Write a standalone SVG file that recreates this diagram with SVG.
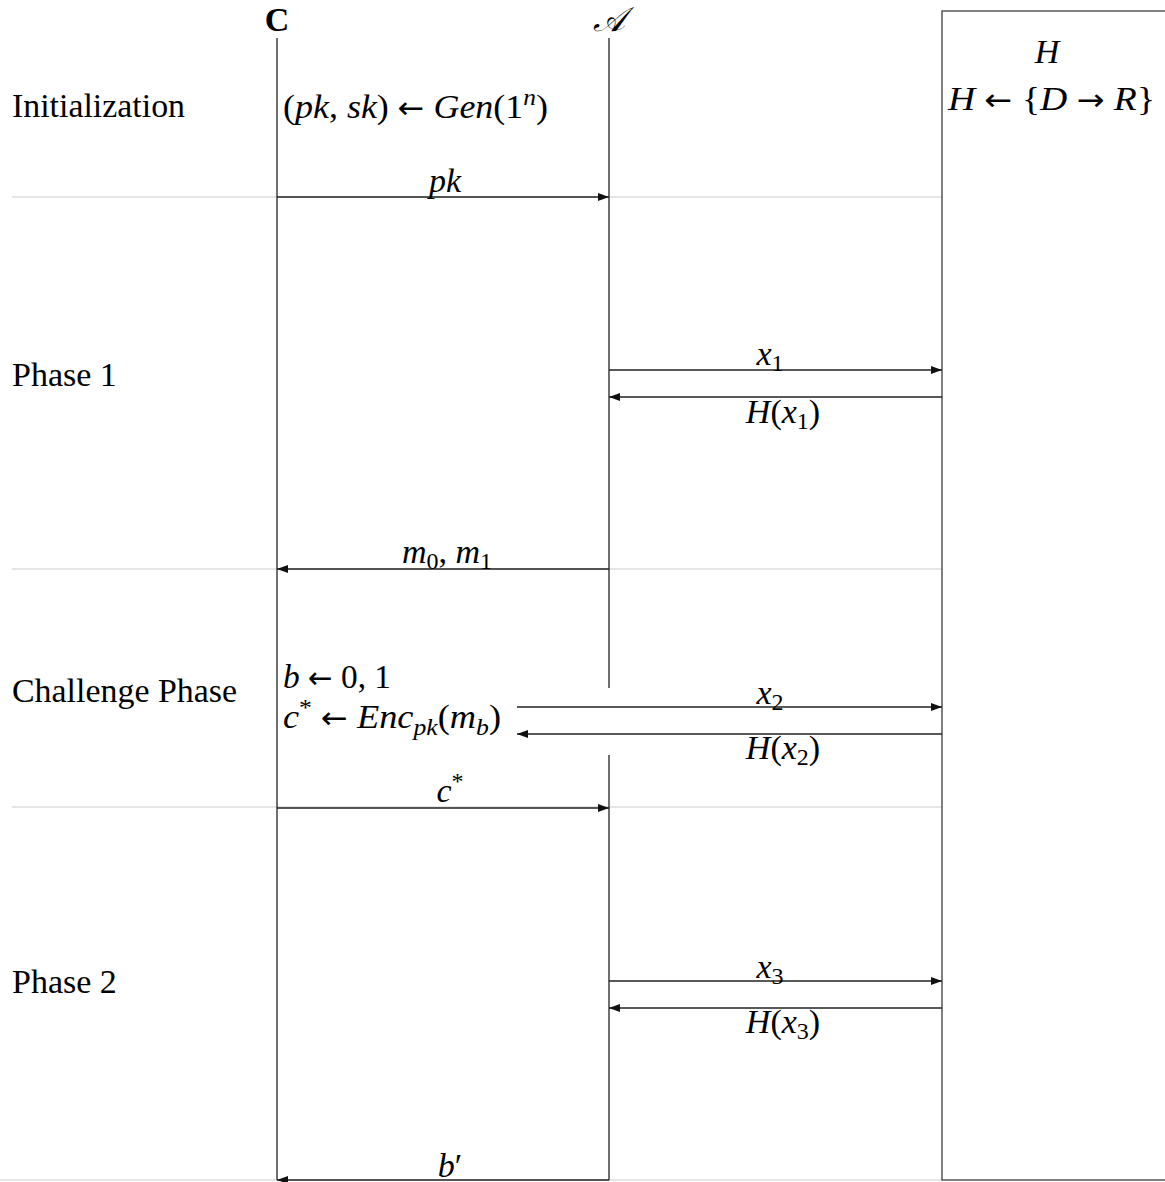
<svg xmlns="http://www.w3.org/2000/svg" width="1165" height="1182" viewBox="0 0 1165 1182">
<style>
text{font-family:"Liberation Serif","Times New Roman",serif;font-size:34px;fill:#000}
.m{font-style:italic}
.sub{font-size:24px}
.ar{font-family:"DejaVu Sans",sans-serif;font-size:30px}
.lbl{text-anchor:middle}
.sep{stroke:#dddddd;stroke-width:1.3;fill:none}
.life{stroke:#222;stroke-width:1.3;fill:none}
.msg{stroke:#222;stroke-width:1.3;fill:none;marker-end:url(#ah)}
</style>
<defs>
<marker id="ah" markerUnits="userSpaceOnUse" markerWidth="12" markerHeight="9" refX="11" refY="4" orient="auto">
<path d="M0,0 L11,4 L0,8 Z" fill="#111"/>
</marker>
</defs>
<g id="separators">
<line class="sep" x1="12" y1="197" x2="942" y2="197"/>
<line class="sep" x1="12" y1="569" x2="942" y2="569"/>
<line class="sep" x1="12" y1="807" x2="942" y2="807"/>
<line class="sep" x1="0" y1="1180" x2="942" y2="1180"/>
</g>
<g id="phase-labels">
<text x="12" y="117" textLength="173" lengthAdjust="spacingAndGlyphs">Initialization</text>
<text x="12" y="386">Phase 1</text>
<text x="12" y="702" textLength="225" lengthAdjust="spacingAndGlyphs">Challenge Phase</text>
<text x="12" y="993">Phase 2</text>
</g>
<g id="node-C">
<text x="277" y="31" class="lbl" font-weight="bold">C</text>
<line class="life" x1="277" y1="38" x2="277" y2="1180"/>
<text x="283" y="118" textLength="265" lengthAdjust="spacingAndGlyphs"><tspan>(</tspan><tspan class="m">pk</tspan><tspan>, </tspan><tspan class="m">sk</tspan><tspan>) </tspan><tspan class="ar">←</tspan><tspan> </tspan><tspan class="m">Gen</tspan><tspan>(1</tspan><tspan class="m sub" dy="-13">n</tspan><tspan dy="13">)</tspan></text>
<text x="283" y="688" textLength="108" lengthAdjust="spacingAndGlyphs"><tspan class="m">b</tspan><tspan> </tspan><tspan class="ar">←</tspan><tspan> 0, 1</tspan></text>
<text x="283" y="728" textLength="218" lengthAdjust="spacingAndGlyphs"><tspan class="m">c</tspan><tspan class="sub" dy="-13">*</tspan><tspan dy="13"> </tspan><tspan class="ar">←</tspan><tspan> </tspan><tspan class="m">Enc</tspan><tspan class="m sub" dy="7">pk</tspan><tspan dy="-7">(</tspan><tspan class="m">m</tspan><tspan class="m sub" dy="7">b</tspan><tspan dy="-7">)</tspan></text>
</g>
<g id="node-A">
<text x="609" y="31" class="lbl m">𝒜</text>
<line class="life" x1="609" y1="38" x2="609" y2="688"/>
<line class="life" x1="609" y1="755" x2="609" y2="1180"/>
</g>
<g id="node-H">
<rect x="942" y="11" width="240" height="1169" fill="none" stroke="#555" stroke-width="1.5"/>
<text x="1047" y="63" class="lbl m">H</text>
<text x="948" y="110" textLength="207" lengthAdjust="spacingAndGlyphs"><tspan class="m">H</tspan><tspan> </tspan><tspan class="ar">←</tspan><tspan> {</tspan><tspan class="m">D</tspan><tspan> </tspan><tspan class="ar">→</tspan><tspan> </tspan><tspan class="m">R</tspan><tspan>}</tspan></text>
</g>
<g id="connectors">
<line class="msg" x1="277" y1="197" x2="609" y2="197"/>
<line class="msg" x1="609" y1="370" x2="942" y2="370"/>
<line class="msg" x1="942" y1="397" x2="609" y2="397"/>
<line class="msg" x1="609" y1="569" x2="277" y2="569"/>
<line class="msg" x1="517" y1="707" x2="942" y2="707"/>
<line class="msg" x1="942" y1="734" x2="517" y2="734"/>
<line class="msg" x1="277" y1="808" x2="609" y2="808"/>
<line class="msg" x1="609" y1="981" x2="942" y2="981"/>
<line class="msg" x1="942" y1="1008" x2="609" y2="1008"/>
<line class="msg" x1="609" y1="1180" x2="277" y2="1180"/>
</g>
<g id="connector-labels">
<text x="445" y="192" class="lbl m">pk</text>
<text x="770" y="365" class="lbl"><tspan class="m">x</tspan><tspan class="sub" dy="6">1</tspan></text>
<text x="783" y="423" class="lbl"><tspan class="m">H</tspan><tspan>(</tspan><tspan class="m">x</tspan><tspan class="sub" dy="6">1</tspan><tspan dy="-6">)</tspan></text>
<text x="447" y="563" class="lbl"><tspan class="m">m</tspan><tspan class="sub" dy="6">0</tspan><tspan dy="-6">, </tspan><tspan class="m">m</tspan><tspan class="sub" dy="6">1</tspan></text>
<text x="770" y="704" class="lbl"><tspan class="m">x</tspan><tspan class="sub" dy="6">2</tspan></text>
<text x="783" y="759" class="lbl"><tspan class="m">H</tspan><tspan>(</tspan><tspan class="m">x</tspan><tspan class="sub" dy="6">2</tspan><tspan dy="-6">)</tspan></text>
<text x="450" y="802" class="lbl"><tspan class="m">c</tspan><tspan class="sub" dy="-13">*</tspan></text>
<text x="770" y="978" class="lbl"><tspan class="m">x</tspan><tspan class="sub" dy="6">3</tspan></text>
<text x="783" y="1033" class="lbl"><tspan class="m">H</tspan><tspan>(</tspan><tspan class="m">x</tspan><tspan class="sub" dy="6">3</tspan><tspan dy="-6">)</tspan></text>
<text x="450" y="1177" class="lbl"><tspan class="m">b</tspan><tspan>′</tspan></text>
</g>
</svg>
